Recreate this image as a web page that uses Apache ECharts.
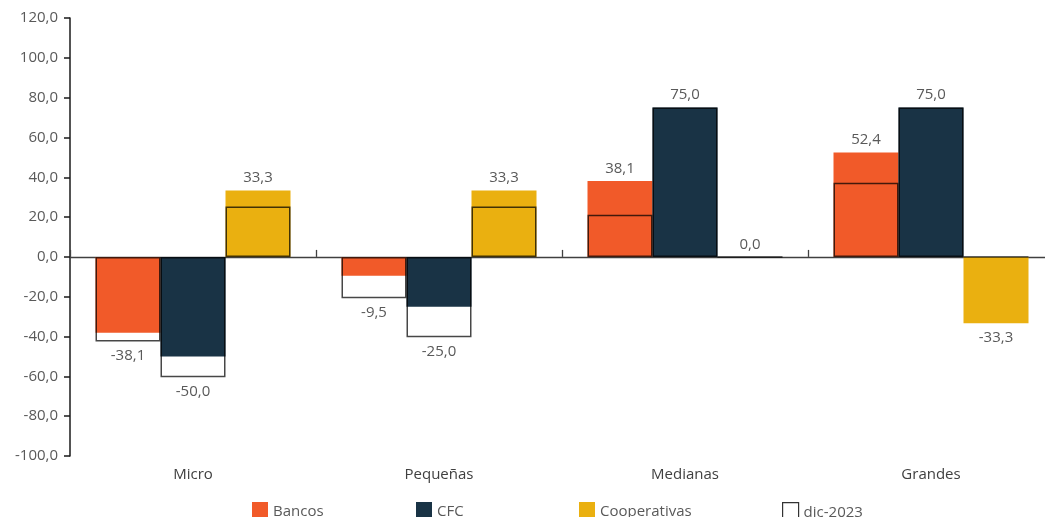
<!DOCTYPE html>
<html>
<head>
<meta charset="utf-8">
<script src="https://cdn.jsdelivr.net/npm/echarts@6/dist/echarts.min.js"></script>
<style>
html,body{margin:0;padding:0;background:#fff;}
#c{width:1045px;height:517px;}
</style>
</head>
<body>
<div id="c"></div>
<script>
const categories = ['Micro', 'Pequeñas', 'Medianas', 'Grandes'];
const bancos = [-38.1, -9.5, 38.1, 52.4];
const cfc = [-50.0, -25.0, 75.0, 75.0];
const cooperativas = [33.3, 33.3, 0.0, -33.3];
const dicBancos = [-42.5, -20.8, 21.2, 37.3];
const dicCfc = [-60.5, -40.3, 75.0, 75.0];
const dicCoop = [25.3, 25.3, 0.0, 0.0];
const yMin = -100, yMax = 120, yStep = 20;

const FONT = 'Open Sans';
const TXT = '#595959';
const fmt = v => Number(v).toFixed(1).replace('.', ',');

const mainSeries = [
  {name: 'Bancos', data: bancos, dic: dicBancos, color: '#F15A29'},
  {name: 'CFC', data: cfc, dic: dicCfc, color: '#193345'},
  {name: 'Cooperativas', data: cooperativas, dic: dicCoop, color: '#EAB010'}
];

const chart = echarts.init(document.getElementById('c'), null, {renderer: 'canvas'});

function buildSeries(labelData) {
  const s = mainSeries.map((m, i) => ({
    name: m.name,
    type: 'bar',
    xAxisIndex: 0,
    yAxisIndex: 0,
    barWidth: 65,
    barGap: '0%',
    itemStyle: {color: m.color},
    label: {
      show: true,
      fontFamily: FONT,
      fontSize: 15,
      color: TXT,
      formatter: p => fmt(p.value)
    },
    data: labelData ? labelData[i] : m.data.slice(),
    z: 2
  }));
  mainSeries.forEach(m => {
    s.push({
      name: 'dic-2023',
      type: 'bar',
      xAxisIndex: 1,
      yAxisIndex: 0,
      barWidth: 65,
      barGap: '0%',
      itemStyle: {color: 'rgba(255,255,255,0)', borderColor: 'rgba(0,0,0,0.72)', borderWidth: 1.5},
      emphasis: {disabled: true},
      data: m.dic.slice(),
      z: 3
    });
  });
  return s;
}

function legendAt(name, left, extra) {
  return Object.assign({
    data: [name],
    left: left,
    top: 502,
    padding: 0,
    itemWidth: 16,
    itemHeight: 20,
    itemGap: 0,
    icon: 'rect',
    selectedMode: false,
    textStyle: {fontFamily: FONT, fontSize: 15, color: TXT}
  }, extra || {});
}

const option = {
  animation: false,
  backgroundColor: '#fff',
  textStyle: {fontFamily: FONT},
  grid: {left: 70, top: 18, width: 984, height: 438, containLabel: false, outerBoundsMode: 'none'},
  legend: [
    legendAt('Bancos', 252),
    legendAt('CFC', 416),
    legendAt('Cooperativas', 579),
    legendAt({name: 'dic-2023', itemStyle: {color: '#fff', borderColor: '#333', borderWidth: 1.2}}, 782)
  ],
  xAxis: [
    {
      type: 'category',
      data: categories,
      axisLine: {show: true, onZero: true, lineStyle: {color: '#404040', width: 1.3}},
      axisTick: {show: true, inside: true, length: 7, lineStyle: {color: '#404040', width: 1.3}},
      axisLabel: {show: false},
      splitLine: {show: false}
    },
    {
      type: 'category',
      data: categories,
      position: 'bottom',
      axisLine: {show: false, onZero: false},
      axisTick: {show: false},
      axisLabel: {show: true, margin: 11, fontFamily: FONT, fontSize: 15, color: '#404040'},
      splitLine: {show: false}
    }
  ],
  yAxis: {
    type: 'value',
    min: yMin,
    max: yMax,
    interval: yStep,
    axisLine: {show: true, lineStyle: {color: '#1a1a1a', width: 1.5}},
    axisTick: {show: true, length: 6, lineStyle: {color: '#1a1a1a', width: 1.5}},
    axisLabel: {margin: 12, fontFamily: FONT, fontSize: 15, color: TXT, formatter: v => fmt(v)},
    splitLine: {show: false}
  },
  series: buildSeries(null)
};

chart.setOption(option);

// Position value labels beyond the farther end of current/dic-2023 bar, using the axis scale
const labelData = mainSeries.map(m => m.data.map((v, j) => {
  const d = m.dic[j];
  const yv = chart.convertToPixel({yAxisIndex: 0}, v);
  if (v < 0) {
    const ext = Math.min(v, d);
    const ye = chart.convertToPixel({yAxisIndex: 0}, ext);
    return {value: v, label: {position: 'bottom', distance: 7 + Math.max(0, ye - yv)}};
  } else {
    const ext = Math.max(v, d);
    const ye = chart.convertToPixel({yAxisIndex: 0}, ext);
    return {value: v, label: {position: 'top', distance: 5 + Math.max(0, yv - ye)}};
  }
}));
chart.setOption({series: buildSeries(labelData)});
</script>
</body>
</html>
